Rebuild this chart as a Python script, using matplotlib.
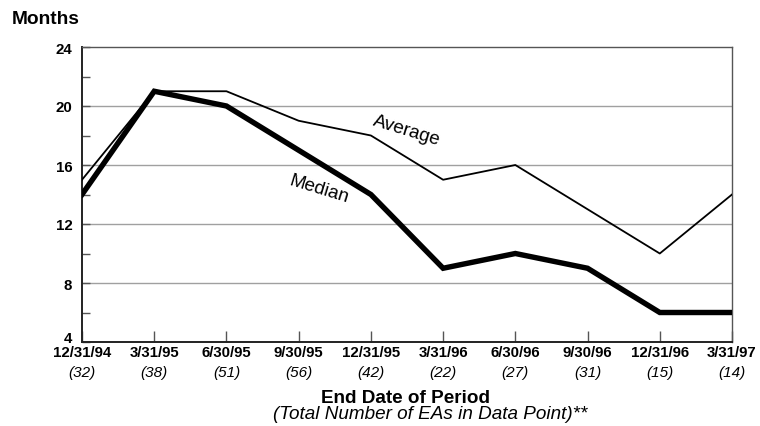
import numpy as np
import matplotlib
matplotlib.use("Agg")
import matplotlib.pyplot as plt

plt.rcParams["font.family"] = ["Liberation Sans", "DejaVu Sans"]

periods = ["12/31/94", "3/31/95", "6/30/95", "9/30/95", "12/31/95",
           "3/31/96", "6/30/96", "9/30/96", "12/31/96", "3/31/97"]
counts = [32, 38, 51, 56, 42, 22, 27, 31, 15, 14]
average = [15, 21, 21, 19, 18, 15, 16, 13, 10, 14]
median = [14, 21, 20, 17, 14, 9, 10, 9, 6, 6]
y_major = [4, 8, 12, 16, 20, 24]

fig = plt.figure(figsize=(7.6, 4.27), dpi=100)
ax = fig.add_axes([82/760, 1 - 343/427, 650/760, 295/427])
x = np.arange(len(periods))

for g in y_major[1:-1]:
    ax.axhline(g, color="#a0a0a0", lw=1.0, zorder=1)

ax.plot(x, average, color="black", lw=1.3, zorder=3)
ax.plot(x, median, color="black", lw=3.9, zorder=4, solid_joinstyle="miter")

ax.set_xlim(0, len(periods) - 1)
ax.set_ylim(4, 24)
ax.set_yticks(y_major)
ax.set_yticks([6, 10, 14, 18, 22], minor=True)
ax.set_xticks(x)
ax.set_xticklabels(periods, fontsize=10.8, fontweight="bold")
ylabels = ax.set_yticklabels([str(v) for v in y_major], fontsize=10.8, fontweight="bold")
ylabels[0].set_va("baseline")  # keep the "4" clear of the first date
ax.tick_params(axis="x", direction="in", length=8, width=1, color="#555555", pad=2)
ax.tick_params(axis="y", which="major", direction="in", length=6, width=1, color="#555555", pad=7)
ax.tick_params(axis="y", which="minor", direction="in", length=6, width=1, color="#555555")
for s in ["top", "right"]:
    ax.spines[s].set_color("#555555")
    ax.spines[s].set_linewidth(1.0)
for s in ["left", "bottom"]:
    ax.spines[s].set_color("#222222")
    ax.spines[s].set_linewidth(1.4)

for xi, c in zip(x, counts):
    ax.annotate(f"({c})", xy=(xi, 0), xycoords=("data", "axes fraction"),
                xytext=(0, -21.5), textcoords="offset points",
                ha="center", va="center", fontsize=11, fontstyle="italic")

ax.text(4.5, 18.35, "Average", rotation=-17, ha="center", va="center", fontsize=13.5, zorder=5)
ax.text(3.28, 14.4, "Median", rotation=-17, ha="center", va="center", fontsize=13.5, zorder=5)

fig.text(12/760, 1 - 20/427, "Months", ha="left", va="center", fontsize=13.8, fontweight="bold")
fig.text(405/760, 1 - 399/427, "End Date of Period", ha="center", va="center",
         fontsize=13.6, fontweight="bold")
fig.text(430/760, 1 - 415/427, "(Total Number of EAs in Data Point)**", ha="center",
         va="center", fontsize=13.6, fontstyle="italic")

fig.savefig("out.png", dpi=100)
